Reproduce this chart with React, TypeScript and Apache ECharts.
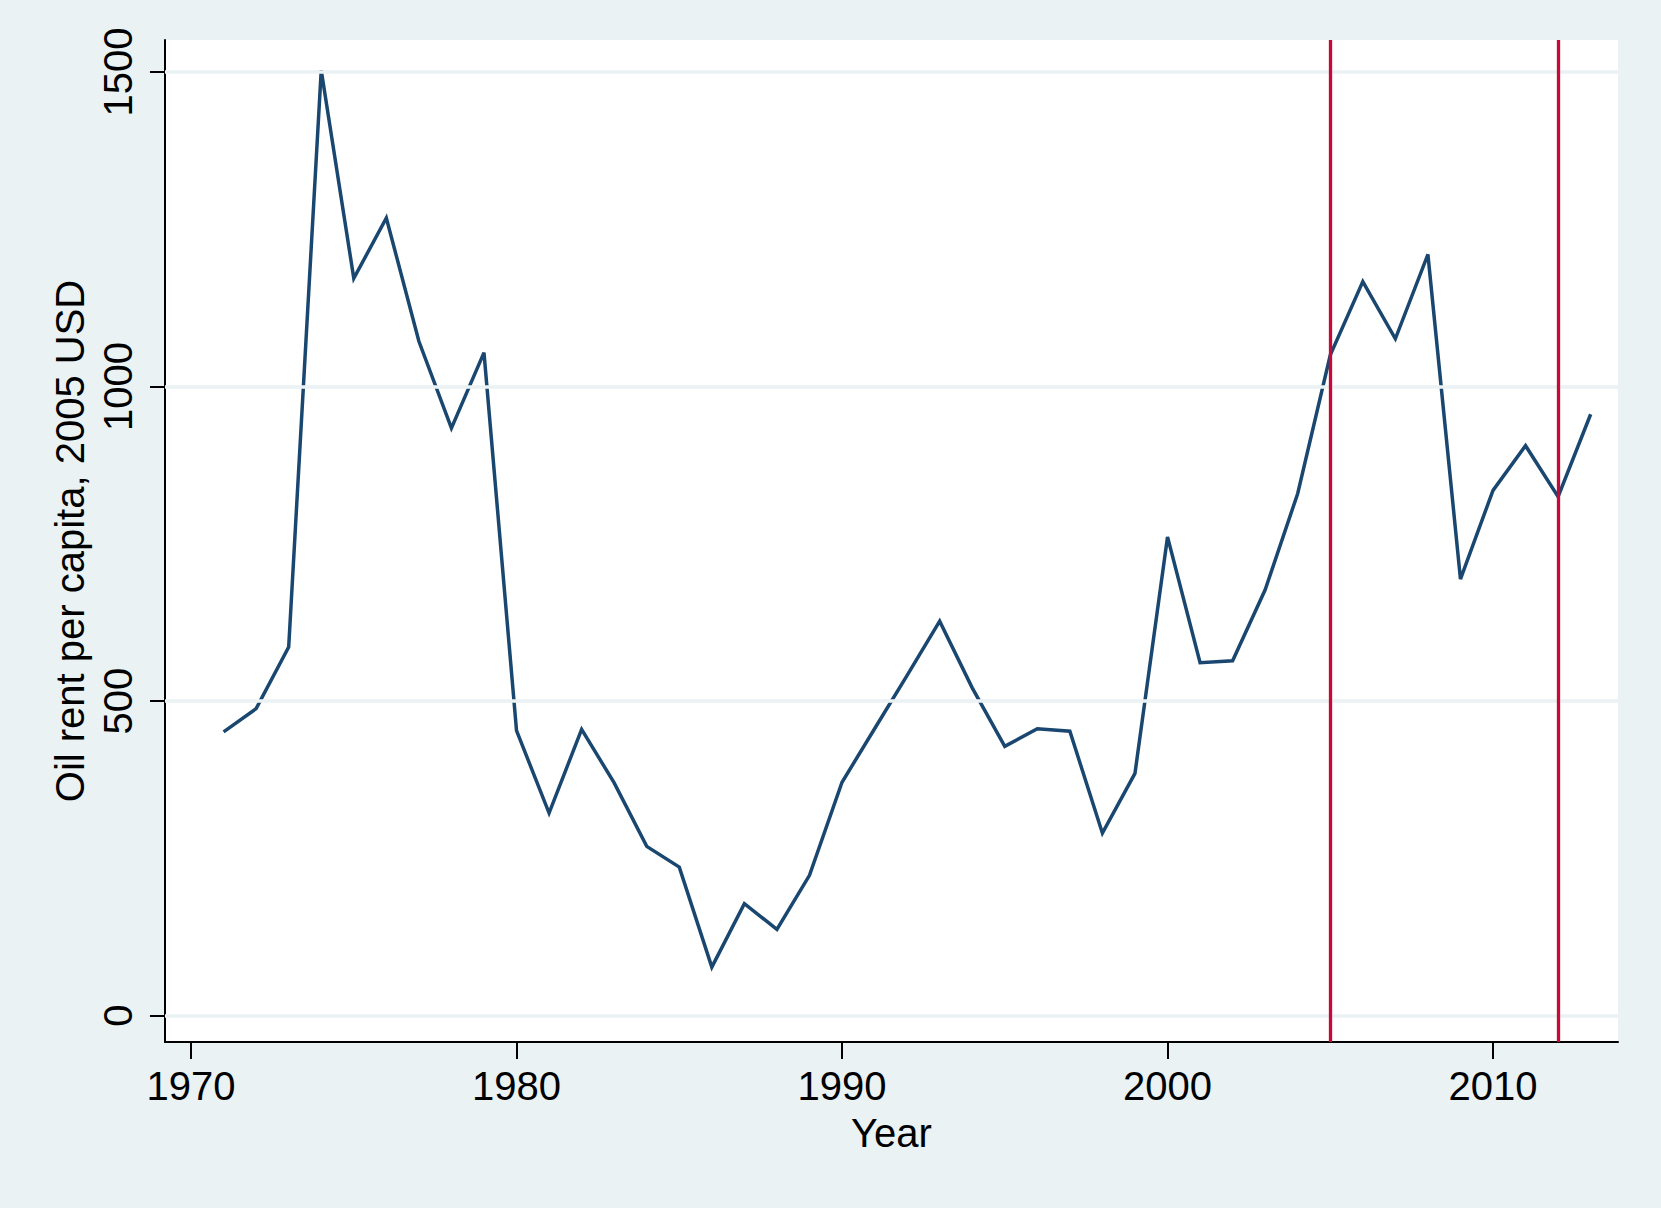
import React, { useEffect, useRef } from "react";
import * as echarts from "echarts";

const years = [
  1971, 1972, 1973, 1974, 1975, 1976, 1977, 1978, 1979, 1980, 1981, 1982, 1983, 1984, 1985,
  1986, 1987, 1988, 1989, 1990, 1991, 1992, 1993, 1994, 1995, 1996, 1997, 1998, 1999, 2000,
  2001, 2002, 2003, 2004, 2005, 2006, 2007, 2008, 2009, 2010, 2011, 2012, 2013,
];
const oilRent = [
  451, 488, 586, 1503, 1172, 1268, 1072, 934, 1054, 453, 322, 455, 370, 269, 236,
  77, 178, 137, 223, 371, 456, 541, 627, 521, 428, 456, 452, 290, 385, 761,
  561, 564, 677, 830, 1050, 1167, 1076, 1210, 694, 835, 906, 825, 956,
];
const xTicks = [1970, 1980, 1990, 2000, 2010];
const yTicks = [0, 500, 1000, 1500];
const markerYears = [2005, 2012];

const FONT = "Liberation Sans, Arial, Helvetica, sans-serif";

export default function App() {
  const ref = useRef<HTMLDivElement>(null);
  useEffect(() => {
    if (!ref.current) return;
    const chart = echarts.init(ref.current, null, { renderer: "svg" });
    const data = years.map((y, i) => [y, oilRent[i]]);
    chart.setOption({
      animation: false,
      backgroundColor: "#EAF2F3",
      textStyle: { fontFamily: FONT },
      grid: {
        left: 165,
        right: 43,
        top: 40,
        bottom: 166,
        show: true,
        backgroundColor: "#FFFFFF",
        borderWidth: 0,
        containLabel: false,
        outerBoundsMode: "none",
      },
      xAxis: {
        type: "value",
        min: 1969.2,
        max: 2013.84,
        name: "Year",
        nameLocation: "middle",
        nameGap: 71,
        nameTextStyle: { color: "#000", fontSize: 40, fontFamily: FONT },
        axisLine: { show: true, onZero: false, lineStyle: { color: "#000", width: 2 } },
        axisTick: { show: true, length: 17, customValues: xTicks, lineStyle: { color: "#000", width: 2 } },
        axisLabel: {
          customValues: xTicks,
          color: "#000",
          fontSize: 40,
          fontFamily: FONT,
          margin: 24,
          formatter: (v: number) => String(v),
        },
        splitLine: { show: false },
      },
      yAxis: {
        type: "value",
        min: -42,
        max: 1551,
        name: "Oil rent per capita, 2005 USD",
        nameLocation: "middle",
        nameGap: 74,
        nameTextStyle: { color: "#000", fontSize: 40, fontFamily: FONT },
        axisLine: { show: true, onZero: false, lineStyle: { color: "#000", width: 2 } },
        axisTick: { show: true, length: 15, customValues: yTicks, lineStyle: { color: "#000", width: 2 } },
        axisLabel: {
          customValues: yTicks,
          rotate: 90,
          color: "#000",
          fontSize: 40,
          fontFamily: FONT,
          margin: 27,
          formatter: (v: number) => String(v),
        },
        splitLine: { show: false },
      },
      series: [
        {
          type: "line",
          data: yTicks.map((t) => [xTicks[0], t]),
          symbol: "none",
          lineStyle: { width: 0, opacity: 0 },
          silent: true,
          z: 1,
          markLine: {
            silent: true,
            symbol: ["none", "none"],
            label: { show: false },
            lineStyle: { color: "#EAF2F3", width: 3.5, type: "solid" },
            data: yTicks.map((t) => ({ yAxis: t })),
          },
        },
        {
          type: "line",
          data,
          symbol: "none",
          z: 3,
          lineStyle: { color: "#1A476F", width: 3.5, join: "miter" },
          markLine: {
            silent: true,
            symbol: ["none", "none"],
            label: { show: false },
            lineStyle: { color: "#C60A38", width: 3.3, type: "solid" },
            data: markerYears.map((y) => ({ xAxis: y })),
          },
        },
      ],
    });
    return () => chart.dispose();
  }, []);
  return (
    <div
      ref={ref}
      style={{ position: "fixed", left: 0, top: 0, width: 1661, height: 1208 }}
    />
  );
}
